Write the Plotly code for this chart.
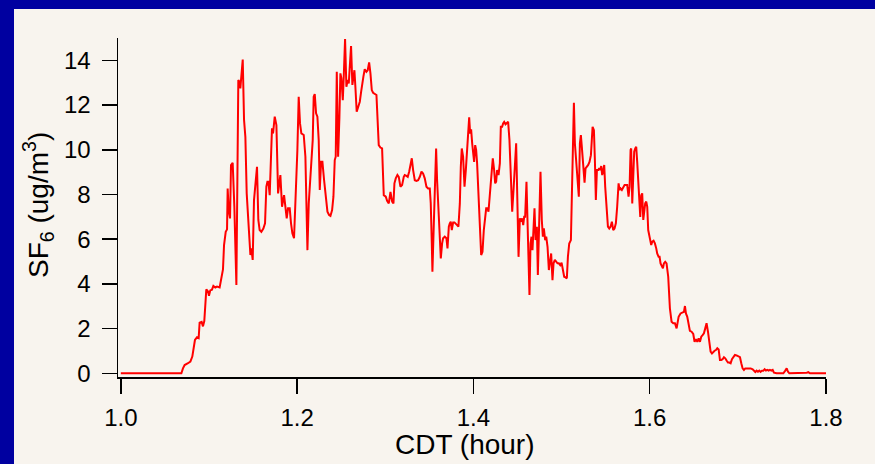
import plotly.graph_objects as go

# CDT (hour)
cdt_hour = [
    1.0000, 1.0687, 1.0705, 1.0724, 1.0762, 1.0789, 1.0811, 1.0826, 1.0841, 1.0864,
    1.0883, 1.0894, 1.0917, 1.0932, 1.0947, 1.0970, 1.0989, 1.1000, 1.1015, 1.1034,
    1.1050, 1.1072, 1.1091, 1.1121, 1.1144, 1.1159, 1.1171, 1.1190, 1.1205, 1.1212,
    1.1224, 1.1239, 1.1250, 1.1269, 1.1288, 1.1311, 1.1333, 1.1345, 1.1356, 1.1364,
    1.1383, 1.1398, 1.1413, 1.1428, 1.1443, 1.1458, 1.1470, 1.1481, 1.1496, 1.1511,
    1.1526, 1.1545, 1.1560, 1.1575, 1.1594, 1.1617, 1.1636, 1.1651, 1.1663, 1.1674,
    1.1689, 1.1704, 1.1715, 1.1727, 1.1746, 1.1765, 1.1784, 1.1810, 1.1829, 1.1852,
    1.1867, 1.1882, 1.1897, 1.1916, 1.1931, 1.1946, 1.1965, 1.1984, 1.2003, 1.2018,
    1.2033, 1.2048, 1.2075, 1.2094, 1.2117, 1.2132, 1.2162, 1.2177, 1.2188, 1.2200,
    1.2215, 1.2230, 1.2245, 1.2257, 1.2272, 1.2287, 1.2306, 1.2325, 1.2344, 1.2363,
    1.2378, 1.2397, 1.2412, 1.2427, 1.2438, 1.2450, 1.2465, 1.2480, 1.2491, 1.2502,
    1.2518, 1.2529, 1.2544, 1.2559, 1.2574, 1.2586, 1.2601, 1.2612, 1.2627, 1.2639,
    1.2650, 1.2661, 1.2676, 1.2692, 1.2711, 1.2726, 1.2741, 1.2752, 1.2767, 1.2786,
    1.2801, 1.2817, 1.2832, 1.2847, 1.2862, 1.2881, 1.2900, 1.2926, 1.2945, 1.2964,
    1.2983, 1.3006, 1.3021, 1.3040, 1.3059, 1.3078, 1.3093, 1.3104, 1.3119, 1.3138,
    1.3153, 1.3172, 1.3191, 1.3210, 1.3221, 1.3240, 1.3255, 1.3271, 1.3286, 1.3301,
    1.3316, 1.3335, 1.3354, 1.3373, 1.3392, 1.3411, 1.3429, 1.3448, 1.3467, 1.3486,
    1.3505, 1.3516, 1.3528, 1.3535, 1.3551, 1.3566, 1.3577, 1.3588, 1.3603, 1.3619,
    1.3630, 1.3645, 1.3656, 1.3675, 1.3694, 1.3706, 1.3721, 1.3732, 1.3743, 1.3755,
    1.3770, 1.3785, 1.3800, 1.3815, 1.3830, 1.3846, 1.3857, 1.3868, 1.3883, 1.3899,
    1.3914, 1.3929, 1.3944, 1.3952, 1.3963, 1.3974, 1.3986, 1.3997, 1.4008, 1.4020,
    1.4031, 1.4042, 1.4057, 1.4073, 1.4088, 1.4103, 1.4118, 1.4145, 1.4160, 1.4171,
    1.4186, 1.4201, 1.4220, 1.4235, 1.4247, 1.4258, 1.4269, 1.4285, 1.4300, 1.4311,
    1.4326, 1.4337, 1.4349, 1.4364, 1.4379, 1.4394, 1.4409, 1.4425, 1.4440, 1.4455,
    1.4470, 1.4485, 1.4496, 1.4512, 1.4527, 1.4538, 1.4553, 1.4565, 1.4576, 1.4587,
    1.4602, 1.4614, 1.4625, 1.4636, 1.4648, 1.4659, 1.4670, 1.4682, 1.4693, 1.4705,
    1.4720, 1.4731, 1.4746, 1.4761, 1.4776, 1.4788, 1.4799, 1.4814, 1.4826, 1.4841,
    1.4856, 1.4871, 1.4882, 1.4897, 1.4909, 1.4924, 1.4939, 1.4954, 1.4969, 1.4985,
    1.5000, 1.5015, 1.5030, 1.5045, 1.5060, 1.5072, 1.5087, 1.5106, 1.5117, 1.5128,
    1.5140, 1.5151, 1.5166, 1.5181, 1.5196, 1.5208, 1.5219, 1.5230, 1.5246, 1.5261,
    1.5272, 1.5287, 1.5302, 1.5317, 1.5333, 1.5352, 1.5367, 1.5378, 1.5389, 1.5401,
    1.5416, 1.5427, 1.5439, 1.5450, 1.5461, 1.5473, 1.5484, 1.5495, 1.5510, 1.5526,
    1.5541, 1.5556, 1.5571, 1.5586, 1.5601, 1.5616, 1.5631, 1.5647, 1.5658, 1.5669,
    1.5684, 1.5700, 1.5715, 1.5730, 1.5745, 1.5760, 1.5772, 1.5783, 1.5790, 1.5802,
    1.5813, 1.5824, 1.5836, 1.5847, 1.5859, 1.5870, 1.5881, 1.5893, 1.5904, 1.5915,
    1.5927, 1.5938, 1.5949, 1.5961, 1.5972, 1.5983, 1.5995, 1.6006, 1.6017, 1.6029,
    1.6044, 1.6059, 1.6074, 1.6085, 1.6101, 1.6112, 1.6123, 1.6138, 1.6150, 1.6161,
    1.6176, 1.6191, 1.6210, 1.6229, 1.6248, 1.6267, 1.6286, 1.6305, 1.6328, 1.6350,
    1.6373, 1.6388, 1.6400, 1.6411, 1.6426, 1.6441, 1.6456, 1.6475, 1.6494, 1.6509,
    1.6524, 1.6540, 1.6555, 1.6570, 1.6585, 1.6600, 1.6615, 1.6630, 1.6645, 1.6661,
    1.6676, 1.6691, 1.6706, 1.6721, 1.6736, 1.6751, 1.6767, 1.6782, 1.6797, 1.6812,
    1.6827, 1.6842, 1.6857, 1.6872, 1.6888, 1.6903, 1.6918, 1.6933, 1.6948, 1.6967,
    1.6986, 1.7005, 1.7024, 1.7039, 1.7054, 1.7069, 1.7084, 1.7100, 1.7122, 1.7145,
    1.7168, 1.7183, 1.7198, 1.7213, 1.7228, 1.7243, 1.7258, 1.7274, 1.7289, 1.7304,
    1.7319, 1.7334, 1.7349, 1.7364, 1.7380, 1.7395, 1.7410, 1.7440, 1.7516, 1.7538,
    1.7554, 1.7569, 1.7584, 1.7781, 1.7799, 1.7818, 1.8000,
]

# SF6 (ug/m3)
sf6 = [
    0.00, 0.00, 0.22, 0.37, 0.45, 0.52, 0.75, 1.12, 1.49, 1.61,
    1.57, 2.26, 2.30, 2.10, 2.34, 3.76, 3.66, 3.47, 3.71, 3.74,
    3.91, 3.84, 3.88, 3.84, 4.29, 4.65, 5.74, 6.33, 6.44, 8.27,
    7.30, 6.93, 9.32, 9.42, 7.45, 3.95, 13.12, 13.05, 12.75, 13.20,
    14.04, 11.33, 10.58, 8.05, 7.00, 5.59, 5.29, 5.59, 5.07, 7.75,
    8.35, 9.24, 6.86, 6.41, 6.33, 6.48, 6.71, 8.35, 8.57, 8.57,
    7.97, 9.99, 10.96, 10.73, 11.48, 11.10, 8.05, 8.87, 7.45, 7.97,
    7.38, 6.93, 7.38, 7.38, 6.71, 6.26, 6.04, 7.75, 9.99, 12.37,
    11.18, 10.73, 10.66, 9.69, 5.51, 7.60, 9.39, 10.43, 12.37, 12.49,
    11.63, 11.48, 10.43, 8.20, 9.46, 9.46, 8.64, 7.75, 7.23, 7.08,
    7.04, 7.30, 7.90, 9.54, 9.69, 13.49, 9.69, 11.48, 13.42, 13.20,
    12.22, 13.27, 14.95, 12.82, 13.12, 12.97, 13.71, 14.64, 12.90, 13.42,
    13.56, 12.82, 11.70, 11.90, 12.15, 12.59, 13.12, 13.27, 13.60, 13.49,
    13.56, 13.91, 13.42, 12.67, 12.55, 12.48, 12.45, 10.21, 10.10, 10.06,
    7.97, 7.90, 7.72, 7.60, 8.12, 7.68, 7.60, 8.50, 8.72, 8.87,
    8.79, 8.35, 8.42, 8.79, 8.87, 8.83, 8.79, 9.02, 9.32, 9.62,
    9.09, 8.64, 8.61, 8.64, 8.79, 9.02, 8.94, 8.72, 8.35, 8.27,
    8.27, 7.60, 5.81, 4.54, 6.71, 9.24, 10.06, 8.64, 7.30, 5.51,
    5.14, 5.81, 6.04, 6.11, 6.04, 5.59, 6.56, 6.71, 6.78, 6.41,
    6.75, 6.75, 6.71, 6.63, 6.56, 7.60, 9.24, 10.06, 9.69, 8.35,
    9.09, 9.99, 10.96, 11.45, 10.73, 10.91, 10.29, 9.69, 9.46, 10.21,
    9.99, 9.39, 8.20, 6.71, 5.29, 5.44, 6.41, 7.38, 7.38, 7.23,
    7.90, 8.79, 9.62, 9.09, 8.50, 8.57, 9.09, 8.87, 9.39, 11.03,
    11.03, 11.18, 11.25, 11.14, 11.18, 11.25, 10.43, 9.09, 7.23, 8.20,
    9.39, 10.29, 8.20, 5.21, 6.93, 6.78, 6.93, 6.63, 7.00, 7.00,
    8.57, 6.41, 4.62, 3.50, 5.81, 6.11, 5.51, 6.71, 7.38, 5.96,
    6.56, 4.40, 6.56, 9.02, 6.86, 6.11, 6.48, 5.96, 6.11, 5.66,
    4.62, 5.07, 5.36, 4.17, 4.92, 5.07, 4.99, 4.92, 4.92, 4.84,
    4.95, 4.70, 4.32, 4.29, 4.25, 5.21, 5.81, 5.96, 7.60, 10.13,
    12.10, 10.29, 9.39, 8.35, 7.90, 10.29, 10.66, 10.13, 9.09, 8.53,
    9.17, 9.24, 9.32, 9.46, 9.76, 11.03, 10.88, 9.54, 7.75, 9.09,
    9.09, 9.17, 9.09, 9.27, 8.87, 9.09, 9.32, 8.35, 7.45, 6.56,
    6.48, 6.56, 6.78, 6.41, 6.48, 6.71, 7.45, 8.50, 8.20, 8.27,
    8.20, 8.35, 8.42, 8.42, 8.42, 7.90, 8.35, 9.99, 10.06, 7.60,
    9.39, 9.91, 10.06, 10.13, 9.39, 8.50, 7.30, 6.99, 7.97, 8.05,
    6.86, 7.23, 7.60, 7.68, 7.45, 6.41, 6.04, 5.96, 5.74, 5.89,
    5.93, 5.81, 5.59, 5.36, 5.21, 5.21, 4.92, 4.74, 4.70, 4.92,
    4.99, 4.92, 4.32, 2.91, 2.31, 2.24, 2.24, 2.01, 2.53, 2.68,
    2.71, 2.75, 3.01, 2.68, 2.53, 2.24, 1.90, 1.86, 1.76, 1.41,
    1.52, 1.41, 1.56, 1.41, 1.64, 1.71, 1.79, 2.01, 2.24, 1.86,
    1.34, 0.97, 0.89, 0.97, 1.01, 1.04, 1.12, 1.07, 0.60, 0.60,
    0.63, 0.72, 0.67, 0.57, 0.48, 0.48, 0.45, 0.63, 0.74, 0.82,
    0.80, 0.77, 0.72, 0.45, 0.22, 0.15, 0.22, 0.22, 0.22, 0.22,
    0.18, 0.12, 0.06, 0.12, 0.07, 0.12, 0.06, 0.12, 0.12, 0.18,
    0.12, 0.15, 0.12, 0.15, 0.12, 0.15, 0.03, 0.00, 0.00, 0.12,
    0.22, 0.07, 0.00, 0.03, 0.05, 0.00, 0.00,
]

x_ticks = [1.0, 1.2, 1.4, 1.6, 1.8]
x_tick_labels = ["1.0", "1.2", "1.4", "1.6", "1.8"]
y_ticks = [0, 2, 4, 6, 8, 10, 12, 14]
y_tick_labels = ["0", "2", "4", "6", "8", "10", "12", "14"]

BLUE = "#0000A0"
BEIGE = "#F8F4EE"
FONT = "Liberation Sans, Arial, sans-serif"

fig = go.Figure()
fig.add_trace(go.Scatter(
    x=cdt_hour, y=sf6, mode="lines",
    line=dict(color="#FF0000", width=2),
    showlegend=False, hoverinfo="skip",
))

W, H = 875, 464
L, R, T, B = 118, 49, 38, 87
pw, ph = W - L - R, H - T - B


def px_x(sx):
    # window pixel x -> paper fraction
    return (sx - L) / pw


def px_y(sy):
    # window pixel y -> paper fraction
    return (H - B - sy) / ph


fig.add_shape(type="rect", xref="paper", yref="paper",
              x0=px_x(14), x1=px_x(W + 20), y0=px_y(H + 20), y1=px_y(9),
              fillcolor=BEIGE, line=dict(width=0), layer="below")

axis_common = dict(
    showline=True, linecolor="black", linewidth=1.5,
    ticks="outside", ticklen=15, tickwidth=1.5, tickcolor="black",
    showgrid=False, zeroline=False,
    tickfont=dict(family=FONT, size=24, color="black"),
)

fig.update_xaxes(range=[0.9968, 1.8], tickvals=x_ticks, ticktext=x_tick_labels,
                 ticklabelstandoff=4, **axis_common)
fig.update_yaxes(range=[-0.165, 15.0], tickvals=y_ticks, ticktext=y_tick_labels,
                 ticklabelstandoff=6, **axis_common)

fig.add_annotation(text="CDT (hour)", xref="paper", yref="paper",
                   x=px_x(465), y=px_y(444), xanchor="center", yanchor="middle",
                   showarrow=False, font=dict(family=FONT, size=28, color="black"))
fig.add_annotation(text="SF<sub>6</sub> (ug/m<sup>3</sup>)", xref="paper", yref="paper",
                   x=px_x(38), y=px_y(205), xanchor="center", yanchor="middle",
                   textangle=-90, showarrow=False,
                   font=dict(family=FONT, size=28, color="black"))

fig.update_layout(
    width=W, height=H,
    margin=dict(l=L, r=R, t=T, b=B, pad=0),
    paper_bgcolor=BLUE, plot_bgcolor="rgba(0,0,0,0)",
    showlegend=False,
)

# Place the figure flush with the window's top-left corner.
page_js = (
    "document.body.style.margin='0';"
    "document.body.style.padding='0';"
    "document.body.style.overflow='hidden';"
    "document.body.style.background='" + BEIGE + "';"
)

fig.write_html("out.html", post_script=page_js,
               config={"displayModeBar": False, "staticPlot": True})
